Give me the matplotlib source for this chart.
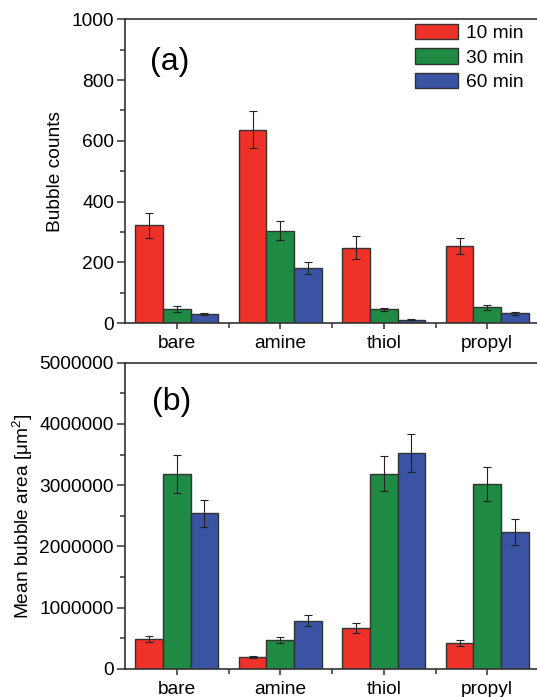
import numpy as np
import matplotlib
matplotlib.use("Agg")
import matplotlib.pyplot as plt
from matplotlib.ticker import MultipleLocator

plt.rcParams['font.family'] = ['Liberation Sans', 'DejaVu Sans']

# data
categories = ['bare', 'amine', 'thiol', 'propyl']
series = ['10 min', '30 min', '60 min']
colors = ['#EE3129', '#1F8A43', '#3A53A3']

counts = [[322, 637, 249, 254],
          [48, 305, 46, 52],
          [31, 182, 12, 33]]
counts_err = [[42, 62, 39, 25],
              [10, 31, 5, 7],
              [4, 21, 2, 5]]

area = [[486000, 197000, 666000, 426000],
        [3190000, 475000, 3190000, 3020000],
        [2540000, 790000, 3520000, 2240000]]
area_err = [[50000, 20000, 80000, 50000],
            [310000, 45000, 290000, 280000],
            [220000, 90000, 310000, 210000]]

fig = plt.figure(figsize=(5.37, 6.97), dpi=100)
ax1 = fig.add_axes([0.2328, 0.5362, 0.771, 0.4362])
ax2 = fig.add_axes([0.2328, 0.0402, 0.771, 0.4395])

x = np.arange(1, len(categories) + 1)
w = 0.8 / 3
edge = '#333333'
fs = 13.8


def draw(ax, vals, errs):
    for i, (v, e) in enumerate(zip(vals, errs)):
        ax.bar(x + (i - 1) * w, v, w, yerr=e, color=colors[i], edgecolor=edge,
               linewidth=1.0, label=series[i],
               error_kw=dict(ecolor='#222222', elinewidth=0.8, capsize=3, capthick=0.8))
    ax.set_xlim(0.5, 4.5)
    ax.set_xticks(x)
    ax.set_xticklabels(categories)
    ax.set_xticks([1.5, 2.5, 3.5], minor=True)
    for s in ax.spines.values():
        s.set_linewidth(1.2)
        s.set_color('#333333')
    ax.tick_params(axis='both', which='major', direction='out', length=6, width=1.1,
                   labelsize=fs, color='#333333')
    ax.tick_params(axis='both', which='minor', direction='out', length=3.5, width=1.1,
                   color='#333333')
    ax.tick_params(axis='x', which='major', length=4.5, pad=4)
    ax.tick_params(axis='y', which='major', pad=2)


draw(ax1, counts, counts_err)
ax1.set_ylim(0, 1000)
ax1.yaxis.set_major_locator(MultipleLocator(200))
ax1.yaxis.set_minor_locator(MultipleLocator(100))
ax1.set_ylabel('Bubble counts', fontsize=fs, labelpad=5)
ax1.text(0.06, 0.86, '(a)', transform=ax1.transAxes, fontsize=23, va='center', ha='left')
ax1.legend(loc='upper left', bbox_to_anchor=(0.70, 0.985), frameon=False, fontsize=fs,
           handlelength=2.25, handleheight=0.85, handletextpad=0.4, labelspacing=0.33,
           borderaxespad=0, borderpad=0)

draw(ax2, area, area_err)
ax2.set_ylim(0, 5000000)
ax2.yaxis.set_major_locator(MultipleLocator(1000000))
ax2.yaxis.set_minor_locator(MultipleLocator(500000))
ax2.ticklabel_format(axis='y', style='plain', useOffset=False)
ax2.set_ylabel('Mean bubble area [$\\mathregular{\\mu m^2}$]', fontsize=fs, labelpad=3)
ax2.text(0.065, 0.873, '(b)', transform=ax2.transAxes, fontsize=23, va='center', ha='left')

fig.savefig('out.png', dpi=100)
